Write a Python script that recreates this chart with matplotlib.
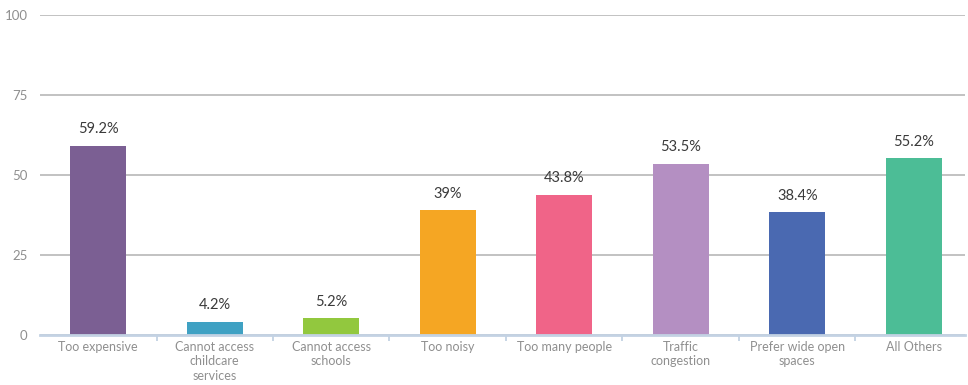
import matplotlib
matplotlib.use("Agg")
import matplotlib.pyplot as plt
import numpy as np

categories = ["Too expensive", "Cannot access\nchildcare\nservices", "Cannot access\nschools",
              "Too noisy", "Too many people", "Traffic\ncongestion",
              "Prefer wide open\nspaces", "All Others"]
values = [59.2, 4.2, 5.2, 39, 43.8, 53.5, 38.4, 55.2]
value_labels = ["59.2%", "4.2%", "5.2%", "39%", "43.8%", "53.5%", "38.4%", "55.2%"]
colors = ["#7b5f93", "#3fa1c3", "#92c83e", "#f5a623", "#f06488", "#b48fc2", "#4a69b1", "#4cbd96"]
y_ticks = [0, 25, 50, 75, 100]

plt.rcParams["font.family"] = ["Lato", "DejaVu Sans"]

fig = plt.figure(figsize=(9.68, 3.85), dpi=100)
ax = fig.add_axes([40 / 968, 1 - 335 / 385, 925 / 968, 320 / 385])

x = np.arange(len(categories))
ax.bar(x, values, width=0.48, color=colors, zorder=3)
for xi, v, lab in zip(x, values, value_labels):
    ax.text(xi, v + 3.0, lab, ha="center", va="bottom", fontsize=10.5,
            color="#3a3a3a", zorder=4)

ax.set_xlim(-0.5, -0.5 + 925 / 116.5)
ax.set_ylim(0, 100)
ax.set_yticks(y_ticks)
ax.set_yticklabels([str(t) for t in y_ticks], color="#8f8f8f", fontsize=9.5)
ax.yaxis.grid(True, color="#bdbdbd", linewidth=1.3, zorder=0)
ax.tick_params(axis="y", length=0, pad=9)

ax.set_xticks(x)
ax.set_xticklabels(categories, color="#8f8f8f", fontsize=9, linespacing=1.25)
ax.tick_params(axis="x", which="major", length=0, pad=4)
ax.set_xticks(np.arange(0.5, len(categories) - 0.5, 1), minor=True)
ax.tick_params(axis="x", which="minor", length=4, width=1.3, color="#c3d2e3")

for side in ["top", "right", "left"]:
    ax.spines[side].set_visible(False)
ax.spines["bottom"].set_color("#c3d2e3")
ax.spines["bottom"].set_linewidth(2)
ax.spines["bottom"].set_zorder(5)

fig.savefig("out.png", dpi=100)
